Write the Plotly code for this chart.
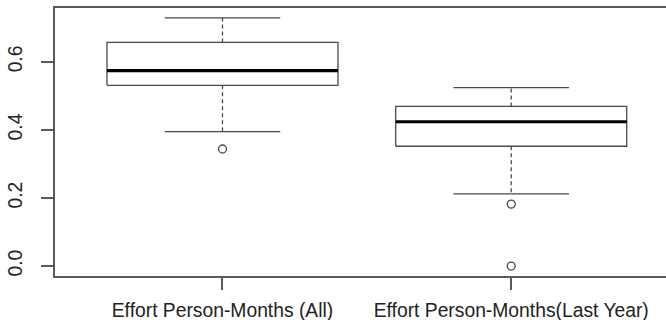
import plotly.graph_objects as go

# Box-plot summary statistics per group
categories = ["Effort Person-Months (All)", "Effort Person-Months(Last Year)"]
lower_whisker = [0.395, 0.212]
q1 = [0.531, 0.352]
median = [0.574, 0.424]
q3 = [0.657, 0.469]
upper_whisker = [0.729, 0.524]
outliers = [[0.344], [0.182, 0.0]]

y_ticks = [0.0, 0.2, 0.4, 0.6]
y_tick_text = ["0.0", "0.2", "0.4", "0.6"]

BOX_HALF = 0.4      # boxwex 0.8
CAP_HALF = 0.2      # staple half-width
LINE_COL = "#4a4a4a"
FRAME_COL = "#5a5a5a"

fig = go.Figure()

for i, name in enumerate(categories):
    c = i + 1
    # box body
    fig.add_trace(go.Scatter(
        x=[c - BOX_HALF, c + BOX_HALF, c + BOX_HALF, c - BOX_HALF, c - BOX_HALF],
        y=[q1[i], q1[i], q3[i], q3[i], q1[i]],
        mode="lines", line=dict(color=LINE_COL, width=1.3),
        hoverinfo="skip", showlegend=False))
    # median
    fig.add_trace(go.Scatter(
        x=[c - BOX_HALF, c + BOX_HALF], y=[median[i], median[i]],
        mode="lines", line=dict(color="#000000", width=3.2),
        hoverinfo="skip", showlegend=False))
    # whiskers (dashed)
    fig.add_trace(go.Scatter(
        x=[c, c, None, c, c],
        y=[q3[i], upper_whisker[i], None, q1[i], lower_whisker[i]],
        mode="lines", line=dict(color=LINE_COL, width=1.3, dash="4px,3px"),
        hoverinfo="skip", showlegend=False))
    # staples
    fig.add_trace(go.Scatter(
        x=[c - CAP_HALF, c + CAP_HALF, None, c - CAP_HALF, c + CAP_HALF],
        y=[upper_whisker[i], upper_whisker[i], None, lower_whisker[i], lower_whisker[i]],
        mode="lines", line=dict(color=LINE_COL, width=1.3),
        hoverinfo="skip", showlegend=False))
    # outliers
    fig.add_trace(go.Scatter(
        x=[c] * len(outliers[i]), y=outliers[i],
        mode="markers",
        marker=dict(symbol="circle-open", size=8, color=LINE_COL, line=dict(width=1.3)),
        hoverinfo="skip", showlegend=False))

y_min = 0.0
y_max = max(upper_whisker)
pad = 0.04 * (y_max - y_min)

fig.update_layout(
    width=666, height=320,
    margin=dict(l=55, r=0, t=8, b=44),
    paper_bgcolor="white", plot_bgcolor="white",
    font=dict(family="Liberation Sans, Arial, sans-serif", size=19.3, color="#222222"),
    xaxis=dict(
        range=[0.42, 2.536],
        tickvals=[1, 2], ticktext=categories,
        showgrid=False, zeroline=False,
        showline=True, mirror=True, linecolor=FRAME_COL, linewidth=1.5,
        ticks="outside", ticklen=12, tickcolor=FRAME_COL, tickwidth=1.5,
        ticklabelstandoff=4,
    ),
    yaxis=dict(
        range=[y_min - pad, y_max + pad],
        tickvals=y_ticks, ticktext=y_tick_text, tickangle=-90,
        showgrid=False, zeroline=False,
        showline=True, mirror=False, linecolor=FRAME_COL, linewidth=1.5,
        ticks="outside", ticklen=12, tickcolor=FRAME_COL, tickwidth=1.5,
        ticklabelstandoff=12,
    ),
)

fig.write_html("out.html")
